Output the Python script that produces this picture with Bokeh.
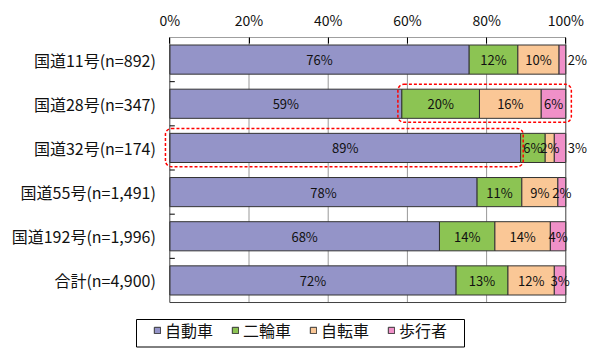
from bokeh.plotting import figure
from bokeh.models import ColumnDataSource, Range1d, FixedTicker, BoxAnnotation, Legend
from bokeh.embed import file_html
from bokeh.resources import INLINE
from bokeh.core.properties import value

# ---- data ----
categories = ["国道11号(n=892)", "国道28号(n=347)", "国道32号(n=174)",
              "国道55号(n=1,491)", "国道192号(n=1,996)", "合計(n=4,900)"]
series_names = ["自動車", "二輪車", "自転車", "歩行者"]
auto = [75.6, 58.6, 88.6, 77.6, 68.1, 72.3]
two = [12.3, 19.6, 6.2, 11.3, 14.0, 13.1]
bike = [10.4, 15.6, 2.3, 9.1, 14.0, 11.7]
walk = [1.7, 6.2, 2.9, 2.0, 3.9, 2.9]
auto_lbl = ["76%", "59%", "89%", "78%", "68%", "72%"]
two_lbl = ["12%", "20%", "6%", "11%", "14%", "13%"]
bike_lbl = ["10%", "16%", "2%", "9%", "14%", "12%"]
walk_lbl = ["2%", "6%", "3%", "2%", "4%", "3%"]
x_ticks = [0, 20, 40, 60, 80, 100]
x_tick_labels = ["0%", "20%", "40%", "60%", "80%", "100%"]
# rows whose pedestrian label sits outside the bar
outside_rows = ["国道11号(n=892)", "国道32号(n=174)"]
# highlighted rows
hl_partial_row = "国道28号(n=347)"   # 二輪車〜歩行者
hl_auto_row = "国道32号(n=174)"      # 自動車

colors = ["#9494C8", "#8CC453", "#FAC796", "#F090C8"]
FONT = "Noto Sans CJK JP"
TXT = "#111111"

# ---- geometry (pixels) ----
PX = 3.96             # pixels per percent
X0 = 169.3            # pixel position of 0 %
W = 596               # frame (= canvas) width
TOP = 37              # top axis area
BAND = 44.17          # pixels per category band
FH = 312
x_start = -X0 / PX
x_end = x_start + W / PX
n = len(categories)
y_end = -0.5 + FH / BAND

def px_x(px):
    return x_start + px / PX

def px_y(py):
    return -0.5 + (py - TOP - 0.5) / BAND

rows = list(range(n))
src = ColumnDataSource(dict(row=rows, auto=auto, two=two, bike=bike, walk=walk))

p = figure(frame_width=W, frame_height=FH, output_backend="svg", toolbar_location=None,
           x_range=Range1d(x_start, x_end), y_range=Range1d(y_end, -0.5),
           x_axis_location="above", y_axis_location=None, min_border_left=0,
           min_border_top=TOP, min_border_right=0, min_border_bottom=0)
p.outline_line_color = None
p.xgrid.visible = False
p.ygrid.visible = False

# vertical grid lines inside the plot area
p.segment(x0=x_ticks[1:-1], x1=x_ticks[1:-1], y0=[-0.5] * (len(x_ticks) - 2),
          y1=[n - 0.5] * (len(x_ticks) - 2), line_color="#999999", line_width=1)

renderers = p.hbar_stack(["auto", "two", "bike", "walk"], y="row", height=0.66, source=src,
                         fill_color=colors, line_color="#333333", line_width=1)

# plot area border (0-100%)
p.quad(left=[0], right=[100], top=[-0.5], bottom=[n - 0.5], fill_color=None,
       line_color="#404040", line_width=1)
# small inner ticks on the category axis between bars
p.segment(x0=[0] * (n - 1), x1=[5 / PX] * (n - 1), y0=[i + 0.5 for i in rows[:-1]],
          y1=[i + 0.5 for i in rows[:-1]], line_color="#000000", line_width=1)

# category labels
p.text(x=[0] * n, y=rows, text=categories, text_align="right", text_baseline="middle",
       x_offset=-14, text_font=value(FONT), text_font_size="16px", text_color=TXT)

# value labels
stacks = [auto, two, bike, walk]
labels = [auto_lbl, two_lbl, bike_lbl, walk_lbl]
cx, cy, ct = [], [], []
ox, oy, ot = [], [], []
for i in rows:
    start = 0.0
    for s, (vals, lbls) in enumerate(zip(stacks, labels)):
        v = vals[i]
        if s == 3 and categories[i] in outside_rows:
            ox.append(start + v)
            oy.append(i)
            ot.append(lbls[i])
        else:
            cx.append(start + v / 2)
            cy.append(i)
            ct.append(lbls[i])
        start += v
p.text(x=cx, y=cy, text=ct, text_align="center", text_baseline="middle",
       text_font=value(FONT), text_font_size="13px", text_color=TXT)
p.text(x=ox, y=oy, text=ot, text_align="left", text_baseline="middle", x_offset=2,
       text_font=value(FONT), text_font_size="13px", text_color=TXT)

# highlight boxes (red dashed, rounded)
r1 = categories.index(hl_partial_row)
p.add_layout(BoxAnnotation(left=auto[r1] - 1.0, right=101.4, top=r1 - 0.44, bottom=r1 + 0.42,
                           fill_alpha=0, line_color="#FF0000", line_alpha=1, line_dash="3 2",
                           line_width=1.5, border_radius=6))
r2 = categories.index(hl_auto_row)
p.add_layout(BoxAnnotation(left=-1.1, right=auto[r2] + 0.64, top=r2 - 0.44, bottom=r2 + 0.425,
                           fill_alpha=0, line_color="#FF0000", line_alpha=1, line_dash="3 2",
                           line_width=1.5, border_radius=6))

# top axis
xa = p.xaxis[0]
xa.ticker = FixedTicker(ticks=x_ticks, minor_ticks=[])
xa.major_label_overrides = {t: l for t, l in zip(x_ticks, x_tick_labels)}
xa.major_tick_in = 6
xa.major_tick_out = 0
xa.major_tick_line_color = "#000000"
xa.axis_line_color = None
xa.major_label_standoff = 8
xa.major_label_text_font = FONT
xa.major_label_text_font_size = "14px"
xa.major_label_text_color = TXT

# legend box + legend
p.quad(left=[px_x(136)], right=[px_x(464)], top=[px_y(319.5)], bottom=[px_y(347)],
       fill_color="white", line_color="#000000", line_width=1)
legend = Legend(items=[(nm, [r]) for nm, r in zip(series_names, renderers)],
                orientation="horizontal", location=(153, 7))
legend.label_text_font = FONT
legend.label_text_font_size = "16px"
legend.label_text_color = TXT
legend.glyph_width = 8
legend.glyph_height = 8
legend.label_standoff = 4
legend.label_width = 50
legend.spacing = 16
legend.padding = 0
legend.margin = 0
legend.border_line_color = None
legend.background_fill_alpha = 0
p.add_layout(legend, "center")

open("out.html", "w").write(file_html(p, INLINE))
